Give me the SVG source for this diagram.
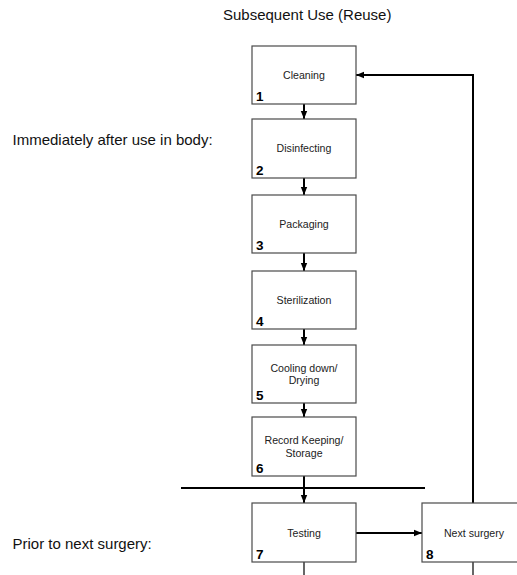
<svg xmlns="http://www.w3.org/2000/svg" width="517" height="575" viewBox="0 0 517 575">
<defs>
<style>
.box{fill:#fff;stroke:#4a4a4a;stroke-width:1.2}
.lbl{font-family:"Liberation Sans",Arial,sans-serif;font-size:10.6px;fill:#222;text-anchor:middle}
.num{font-family:"Liberation Sans",Arial,sans-serif;font-size:13.5px;font-weight:bold;fill:#000}
.side{font-family:"Liberation Sans",Arial,sans-serif;font-size:15px;fill:#111}
.conn{stroke:#000;stroke-width:2;fill:none}
.thin{stroke:#000;stroke-width:1.2;fill:none}
</style>
<marker id="ah" markerUnits="userSpaceOnUse" markerWidth="8" markerHeight="8" viewBox="0 0 8 8" refX="8" refY="4" orient="auto">
<path d="M0,0.8 L8,4 L0,7.2 Z" fill="#000"/>
</marker>
</defs>
<text class="side" x="223" y="19.5">Subsequent Use (Reuse)</text>
<text class="side" x="12.5" y="145">Immediately after use in body:</text>
<text class="side" x="12.5" y="549">Prior to next surgery:</text>
<g id="connectors">
<line class="conn" x1="304" y1="104" x2="304" y2="119" marker-end="url(#ah)"/>
<line class="conn" x1="304" y1="178" x2="304" y2="195" marker-end="url(#ah)"/>
<line class="conn" x1="304" y1="253" x2="304" y2="271" marker-end="url(#ah)"/>
<line class="conn" x1="304" y1="329" x2="304" y2="345" marker-end="url(#ah)"/>
<line class="conn" x1="304" y1="403" x2="304" y2="417" marker-end="url(#ah)"/>
<line class="conn" x1="304" y1="476" x2="304" y2="503" marker-end="url(#ah)"/>
<line class="conn" x1="181" y1="488" x2="425" y2="488"/>
<line class="conn" x1="356" y1="533" x2="422" y2="533" marker-end="url(#ah)"/>
<polyline class="conn" points="473,503 473,75 356,75" marker-end="url(#ah)"/>
<line class="thin" x1="304" y1="562" x2="304" y2="575"/>
<line class="thin" x1="473" y1="562" x2="473" y2="575"/>
</g>
<g id="n1"><rect class="box" x="252" y="46" width="104" height="58"/><text class="lbl" x="304" y="79">Cleaning</text><text class="num" x="256" y="100.5">1</text></g>
<g id="n2"><rect class="box" x="252" y="119" width="104" height="59"/><text class="lbl" x="304" y="152">Disinfecting</text><text class="num" x="256" y="174.5">2</text></g>
<g id="n3"><rect class="box" x="252" y="195" width="104" height="58"/><text class="lbl" x="304" y="228">Packaging</text><text class="num" x="256" y="249.5">3</text></g>
<g id="n4"><rect class="box" x="252" y="271" width="104" height="58"/><text class="lbl" x="304" y="304">Sterilization</text><text class="num" x="256" y="325.5">4</text></g>
<g id="n5"><rect class="box" x="252" y="345" width="104" height="58"/><text class="lbl" x="304" y="371.5">Cooling down/</text><text class="lbl" x="304" y="384">Drying</text><text class="num" x="256" y="399.5">5</text></g>
<g id="n6"><rect class="box" x="252" y="417" width="104" height="59"/><text class="lbl" x="304" y="444">Record Keeping/</text><text class="lbl" x="304" y="457">Storage</text><text class="num" x="256" y="472.5">6</text></g>
<g id="n7"><rect class="box" x="252" y="503" width="104" height="59"/><text class="lbl" x="304" y="537">Testing</text><text class="num" x="256" y="558.5">7</text></g>
<g id="n8"><rect class="box" x="422" y="503" width="104" height="59"/><text class="lbl" x="474" y="537">Next surgery</text><text class="num" x="426" y="558.5">8</text></g>
</svg>
